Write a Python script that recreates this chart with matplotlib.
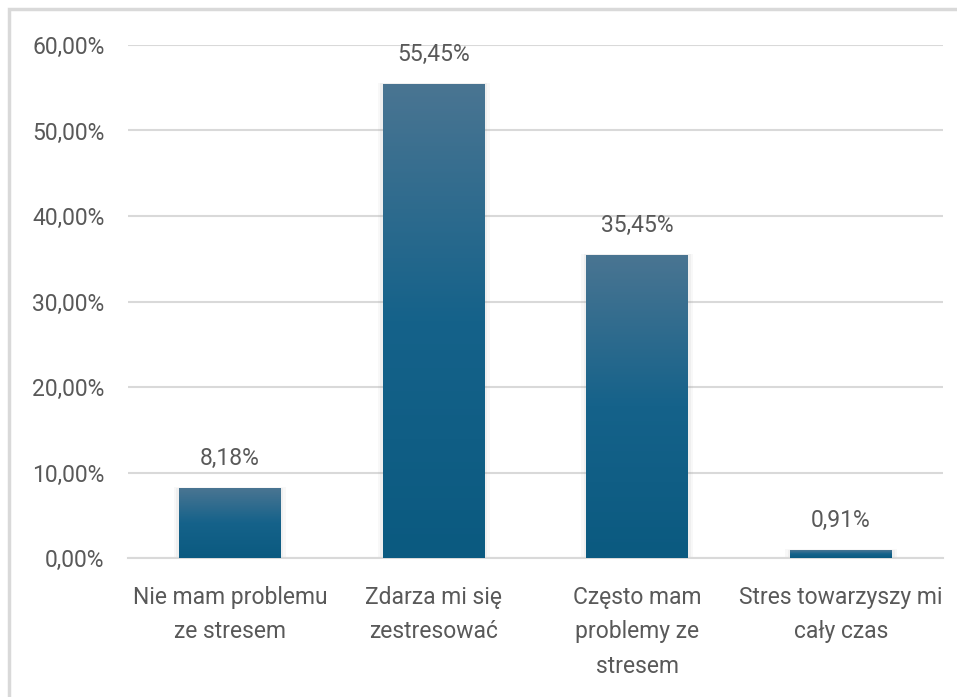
import numpy as np
import matplotlib
matplotlib.use("Agg")
import matplotlib.pyplot as plt
from matplotlib.colors import LinearSegmentedColormap
from matplotlib.patches import Rectangle
from matplotlib.ticker import FuncFormatter

plt.rcParams["font.family"] = ["Roboto", "DejaVu Sans"]

# odpowiedzi i odsetki
categories = [
    "Nie mam problemu\nze stresem",
    "Zdarza mi się\nzestresować",
    "Często mam\nproblemy ze\nstresem",
    "Stres towarzyszy mi\ncały czas",
]
shares = [8.18, 55.45, 35.45, 0.91]
y_ticks = [0, 10, 20, 30, 40, 50, 60]

TEXT = "#595959"
GRID = "#d9d9d9"
FS = 16.5
bar_cmap = LinearSegmentedColormap.from_list("bar", ["#0b5a80", "#15628a", "#4a7592"])

fig = plt.figure(figsize=(9.57, 6.97), dpi=100)
ax = fig.add_axes([128 / 957, 139 / 697, 815 / 957, 513 / 697])

x = np.arange(len(categories))
bars = ax.bar(x, shares, width=0.5, color="none", zorder=3)

# pionowy gradient w każdym słupku
grad = np.linspace(0, 1, 256).reshape(-1, 1)
for b in bars:
    x0, w, h = b.get_x(), b.get_width(), b.get_height()
    img = ax.imshow(grad, cmap=bar_cmap, aspect="auto", origin="lower",
                    extent=(x0, x0 + w, 0, h), zorder=3)
    clip = Rectangle((x0, 0), w, h, transform=ax.transData)
    img.set_clip_path(clip)
    # delikatny cień wokół słupka
    for k, a in [(0.025, 0.05), (0.012, 0.07)]:
        ax.add_patch(Rectangle((x0 - k, 0), w + 2 * k, h + k * 4,
                               facecolor="#7f7f7f", alpha=a, lw=0, zorder=2))

for xi, v in zip(x, shares):
    ax.annotate(f"{v:.2f}%".replace(".", ","), (xi, v), xytext=(0, 13),
                textcoords="offset points", ha="center", va="bottom",
                fontsize=FS, color=TEXT)

ax.set_xlim(-0.5, len(categories) - 0.5)
ax.set_ylim(0, 60)
ax.set_yticks(y_ticks)
ax.yaxis.set_major_formatter(FuncFormatter(lambda v, _: f"{v:.2f}%".replace(".", ",")))
ax.set_xticks(x)
ax.set_xticklabels(categories, linespacing=1.65)
ax.tick_params(axis="both", length=0, labelsize=FS, labelcolor=TEXT)
ax.tick_params(axis="x", pad=20)
ax.tick_params(axis="y", pad=17)
ax.grid(axis="y", color=GRID, lw=1.5, zorder=0)
for side in ["top", "right", "left"]:
    ax.spines[side].set_visible(False)
ax.spines["bottom"].set_color(GRID)
ax.spines["bottom"].set_linewidth(1.5)

# ramka wokół wykresu (prawa i dolna krawędź poza kadrem)
fig.add_artist(Rectangle((9 / 957, -20 / 697), 980 / 957, 708 / 697,
                         transform=fig.transFigure, fill=False,
                         edgecolor=GRID, lw=2.5, clip_on=False))

fig.savefig("out.png", dpi=100)
